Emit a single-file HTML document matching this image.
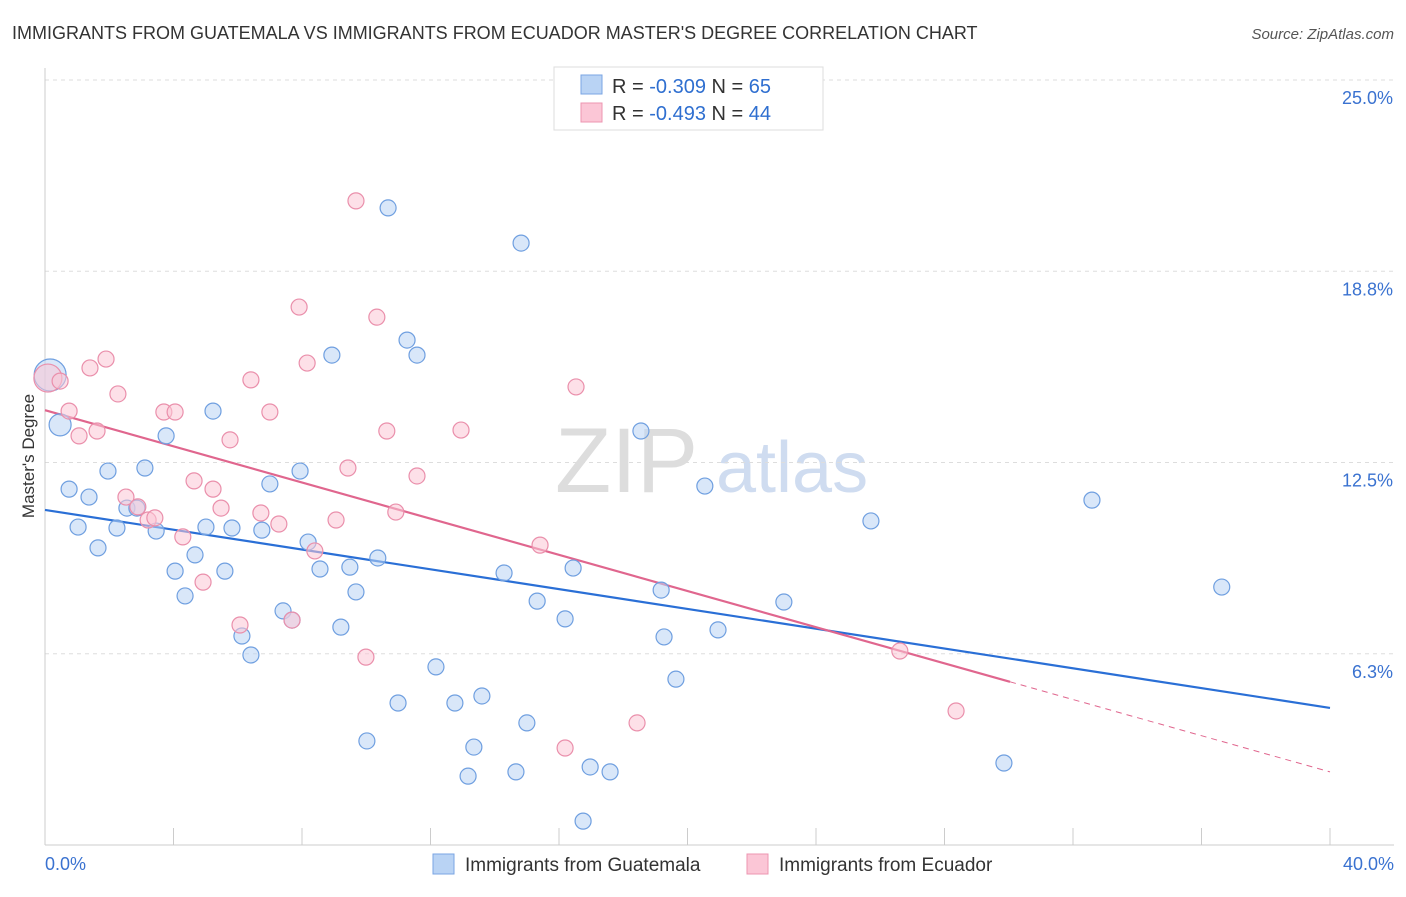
<!DOCTYPE html>
<html><head><meta charset="utf-8">
<style>
body{margin:0;background:#fff;font-family:"Liberation Sans",sans-serif;}
svg text{font-family:"Liberation Sans",sans-serif;}
</style></head>
<body>
<svg id="chart" width="1406" height="892" viewBox="0 0 1406 892">
<text x="12" y="39" font-size="18" fill="#333">IMMIGRANTS FROM GUATEMALA VS IMMIGRANTS FROM ECUADOR MASTER'S DEGREE CORRELATION CHART</text>
<text x="1394" y="39" font-size="15" fill="#555" font-style="italic" text-anchor="end">Source: ZipAtlas.com</text>
<g>
<text x="555" y="492" font-size="92" font-family="Liberation Serif" fill="#ddd">ZIP</text>
<text x="716" y="492" font-size="72" fill="#cfdcf0">atlas</text>
</g>
<g id="grid"></g><g id="axes"></g><g id="lines"></g><g id="pts"></g>
<text x="0" y="0" font-size="17" fill="#333" transform="translate(34,456) rotate(-90)" text-anchor="middle">Master's Degree</text>
<g>
<rect x="554" y="67" width="269" height="63" fill="#fff" stroke="#ddd"/>
<rect x="581" y="75" width="21" height="19" fill="#b9d3f4" stroke="#7aa5e3"/>
<rect x="581" y="103" width="21" height="19" fill="#fbc6d6" stroke="#ec95b0"/>
<text x="612" y="93" font-size="20" fill="#333">R = <tspan fill="#2f6fd0">-0.309</tspan>   N = <tspan fill="#2f6fd0">65</tspan></text>
<text x="612" y="120" font-size="20" fill="#333">R = <tspan fill="#2f6fd0">-0.493</tspan>   N = <tspan fill="#2f6fd0">44</tspan></text>
</g>
<g>
<rect x="433" y="854" width="21" height="20" fill="#b9d3f4" stroke="#7aa5e3"/>
<text x="465" y="871" font-size="19" fill="#333">Immigrants from Guatemala</text>
<rect x="747" y="854" width="21" height="20" fill="#fbc6d6" stroke="#ec95b0"/>
<text x="779" y="871" font-size="19" fill="#333">Immigrants from Ecuador</text>
</g>
</svg>
<script>
const yTicks=[6.25,12.5,18.75,25];
const yTickLabels=["6.3%","12.5%","18.8%","25.0%"];
const xTickCount=10;
const xEndLabels=["0.0%","40.0%"];
const blueX=[0.16,0.47,0.75,1.03,1.37,1.65,1.96,2.24,2.55,2.86,3.11,3.46,3.77,4.05,4.36,4.67,5.01,5.23,5.60,5.82,6.13,6.41,6.75,7.00,7.41,7.69,7.94,8.19,8.56,8.93,9.21,9.49,9.68,10.02,10.36,10.68,10.99,11.27,11.58,12.17,12.76,13.17,13.35,13.60,14.29,14.66,14.82,15.00,15.32,16.19,16.44,16.75,16.97,17.59,18.55,19.18,19.27,19.64,20.54,20.95,23.00,25.71,29.85,32.59,36.63];
const blueY=[15.36,13.73,11.63,10.39,11.37,9.71,12.22,10.36,11.01,11.01,12.32,10.26,13.37,8.95,8.14,9.48,10.39,14.18,8.95,10.36,6.83,6.21,10.29,11.80,7.65,7.35,12.22,9.90,9.02,16.01,7.12,9.08,8.27,3.40,9.38,20.82,4.64,16.50,16.01,5.82,4.64,2.25,3.20,4.87,8.89,2.39,19.67,3.99,7.97,7.39,9.05,0.78,2.55,2.39,13.53,8.33,6.80,5.42,11.73,7.03,7.94,10.59,2.68,11.27,8.43];
const blueR=[16,11];
const pinkX=[0.09,0.47,0.75,1.06,1.40,1.62,1.90,2.27,2.52,2.89,3.21,3.42,3.70,4.05,4.29,4.64,4.92,5.23,5.48,5.76,6.07,6.41,6.72,7.00,7.28,7.69,7.91,8.16,8.40,9.06,9.43,9.68,9.99,10.33,10.64,10.92,11.58,12.95,15.41,16.19,16.53,18.43,26.61,28.36];
const pinkY=[15.26,15.16,14.18,13.37,15.59,13.53,15.88,14.74,11.37,11.05,10.62,10.69,14.15,14.15,10.07,11.90,8.59,11.63,11.01,13.24,7.19,15.20,10.85,14.15,10.49,7.35,17.58,15.75,9.61,10.62,12.32,21.05,6.14,17.25,13.53,10.88,12.06,13.56,9.80,3.17,14.97,3.99,6.34,4.38];
const pinkR=[14];
const blueTrend=[10.95,4.48];
const pinkTrend=[14.21,2.39];
const pinkSolidEnd=30.04;

const X0=45,X1=1330,Y0=845,Y25=80;
const sx=v=>X0+(v/40)*(X1-X0);
const sy=v=>Y0-(v/25)*(Y0-Y25);
const NS="http://www.w3.org/2000/svg";
function mk(tag,attrs,parent){const e=document.createElementNS(NS,tag);for(const k in attrs)e.setAttribute(k,attrs[k]);document.getElementById(parent).appendChild(e);return e;}
yTicks.forEach((t,i)=>{
 const g=mk('line',{x1:X0,x2:1394,y1:sy(t),y2:sy(t),stroke:'#ddd','stroke-dasharray':'4,4'},'grid');
 
 
 const l=mk('text',{x:1393,y:sy(t)+24,'font-size':18,fill:'#3a72d0','text-anchor':'end'},'grid');
 l.textContent=yTickLabels[i];
 
 
});
const ya=mk('line',{x1:X0,x2:X0,y1:68,y2:Y0,stroke:'#ccc'},'axes');


const xa=mk('line',{x1:X0,x2:1394,y1:Y0,y2:Y0,stroke:'#ccc'},'axes');


for(let i=1;i<=xTickCount;i++){
 const v=i*40/xTickCount;
 const t=mk('line',{x1:sx(v),x2:sx(v),y1:828,y2:Y0,stroke:'#ccc'},'axes');
 
 
}
[[0,'start',45],[40,'end',1394]].forEach((d,i)=>{
 const l=mk('text',{x:d[2],y:870,'font-size':18,fill:'#3a72d0','text-anchor':d[1]},'axes');
 l.textContent=xEndLabels[i];
 
 
});
function drawPts(xs,ys,rs,fill,stroke,name){
 xs.forEach((x,i)=>{
  const c=mk('circle',{cx:sx(x),cy:sy(ys[i]),r:rs[i]||8,fill:fill,'fill-opacity':0.55,stroke:stroke,'stroke-width':1.2},'pts');
  
  
 });
}
drawPts(blueX,blueY,blueR,'#b9d3f4','#6f9fe0','guatemala-point');
drawPts(pinkX,pinkY,pinkR,'#fbc6d6','#ea8fab','ecuador-point');
const bl=mk('line',{x1:sx(0),y1:sy(blueTrend[0]),x2:sx(40),y2:sy(blueTrend[1]),stroke:'#2a6fd6','stroke-width':2.2},'lines');


const pv=x=>pinkTrend[0]+(pinkTrend[1]-pinkTrend[0])*x/40;
const pl=mk('line',{x1:sx(0),y1:sy(pv(0)),x2:sx(pinkSolidEnd),y2:sy(pv(pinkSolidEnd)),stroke:'#e0668e','stroke-width':2.2},'lines');


const pd=mk('line',{x1:sx(pinkSolidEnd),y1:sy(pv(pinkSolidEnd)),x2:sx(40),y2:sy(pv(40)),stroke:'#e0668e','stroke-width':1,'stroke-dasharray':'6,5'},'lines');


</script>
</body></html>
